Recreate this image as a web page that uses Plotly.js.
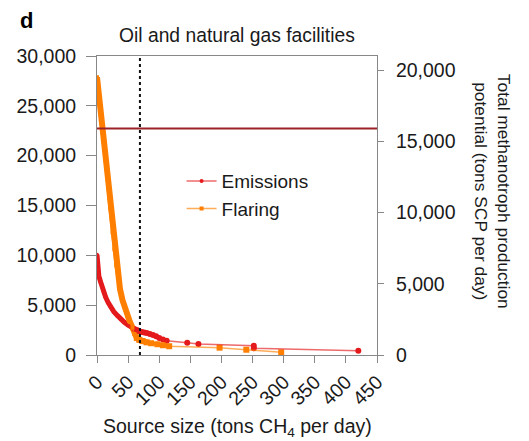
<!DOCTYPE html>
<html>
<head>
<meta charset="utf-8">
<script src="https://cdn.plot.ly/plotly-3.0.1.min.js"></script>
<style>html,body{margin:0;padding:0;background:#fff;}#chart{width:529px;height:441px;}</style>
</head>
<body>
<div id="chart"></div>
<script>
// ---- Data ----
const emissionsX = [0, 1, 3, 6, 10, 14, 18, 22, 27, 33, 38, 44, 50, 55, 60, 64, 68, 72, 76, 80, 85, 90, 95, 100, 106, 112, 145, 163, 252, 252, 420];
const emissionsY = [10060, 8630, 7900, 7290, 6450, 5790, 5250, 4790, 4350, 3950, 3600, 3280, 3000, 2780, 2620, 2500, 2380, 2300, 2270, 2200, 2110, 2000, 1880, 1700, 1560, 1440, 1230, 1100, 935, 670, 430];
const flaringX = [0, 2, 4, 6, 9, 12, 15, 18, 21, 25, 28, 31, 34, 37, 41, 45, 49, 53, 57, 60, 64, 68, 73, 80, 87, 97, 106, 116, 197, 240, 296];
const flaringY = [27860, 26700, 25400, 24200, 22350, 20550, 18700, 16800, 14800, 12300, 10600, 9000, 7700, 6600, 5500, 4600, 3900, 3300, 2750, 2100, 1700, 1520, 1400, 1270, 1180, 1080, 980, 880, 735, 530, 265];
const seriesNames = ["Emissions", "Flaring"];
const thresholdSize = 69;          // vertical dotted line (tons CH4 per day)
const productionLevel = 15900;     // horizontal line on right axis (tons SCP per day)
const xTicks = [0, 50, 100, 150, 200, 250, 300, 350, 400, 450];
const yTicks = [0, 5000, 10000, 15000, 20000, 25000, 30000];
const y2Ticks = [0, 5000, 10000, 15000, 20000];

const RED = "#e41a1c", ORANGE = "#ff7f00";
const FONT = "Liberation Sans, Arial, Helvetica, sans-serif";
const denseE = 26, denseF = 24;

const traces = [
  // thick bands where the source points are packed densely
  {x: emissionsX.slice(0, 16), y: emissionsY.slice(0, 16), mode: "lines",
   line: {color: RED, width: 5}, showlegend: false, hoverinfo: "skip"},
  {x: emissionsX.slice(0, denseE), y: emissionsY.slice(0, denseE), mode: "lines",
   line: {color: RED, width: 3.5}, showlegend: false, hoverinfo: "skip"},
  {x: flaringX.slice(0, denseF), y: flaringY.slice(0, denseF), mode: "lines",
   line: {color: ORANGE, width: 6}, showlegend: false, hoverinfo: "skip"},
  {x: flaringX.slice(0, 28), y: flaringY.slice(0, 28), mode: "lines",
   line: {color: ORANGE, width: 3.5}, showlegend: false, hoverinfo: "skip"},
  // markers drawn only on the sparser tail
  {x: emissionsX.slice(14), y: emissionsY.slice(14), mode: "markers",
   marker: {color: RED, size: 6, symbol: "circle"}, showlegend: false, hoverinfo: "skip"},
  {x: flaringX.slice(20), y: flaringY.slice(20), mode: "markers",
   marker: {color: ORANGE, size: 6, symbol: "square"}, showlegend: false, hoverinfo: "skip"},
  // full series (legend entries)
  {x: emissionsX, y: emissionsY, name: seriesNames[0], mode: "lines+markers",
   line: {color: "rgba(228,26,28,0.65)", width: 1.5},
   marker: {color: RED, size: 4, symbol: "circle"}},
  {x: flaringX, y: flaringY, name: seriesNames[1], mode: "lines+markers",
   line: {color: "rgba(255,127,0,0.65)", width: 1.5},
   marker: {color: ORANGE, size: 4, symbol: "square"}},
  {x: [0, 450], y: [0, 0], yaxis: "y2", mode: "lines", line: {width: 0}, showlegend: false, hoverinfo: "skip"}
];

const fmt = v => v.toLocaleString("en-US");

const layout = {
  width: 529, height: 441,
  margin: {l: 97, r: 152, t: 56, b: 86},
  paper_bgcolor: "#fff", plot_bgcolor: "#fff",
  font: {family: FONT, size: 19, color: "#1a1a1a"},
  showlegend: true,
  legend: {x: 0.302, y: 0.535, xanchor: "left", yanchor: "middle", bgcolor: "rgba(0,0,0,0)",
           font: {size: 19}, itemwidth: 30, tracegroupgap: 0},
  xaxis: {range: [0, 450], tickvals: xTicks, ticktext: xTicks.map(String), tickangle: -45,
          ticks: "outside", ticklen: 7, tickcolor: "#888", showline: true, linecolor: "#888",
          linewidth: 1, mirror: true, showgrid: false, zeroline: false, tickfont: {size: 19.5}},
  yaxis: {range: [0, 30000], tickvals: yTicks, ticktext: yTicks.map(fmt),
          ticks: "outside", ticklen: 10, tickcolor: "#888", showline: true, linecolor: "#888",
          linewidth: 1, showgrid: false, zeroline: false, tickfont: {size: 19.5}, ticklabelstandoff: 6},
  yaxis2: {range: [0, 21000], overlaying: "y", side: "right", tickvals: y2Ticks, ticktext: y2Ticks.map(fmt),
           ticks: "outside", ticklen: 6, tickcolor: "#888", showline: true, linecolor: "#888",
           linewidth: 1, showgrid: false, zeroline: false, tickfont: {size: 19.5}, ticklabelstandoff: 8},
  shapes: [
    {type: "line", xref: "x", yref: "paper", x0: thresholdSize, x1: thresholdSize, y0: 0, y1: 1,
     line: {color: "#111", width: 2, dash: "dot"}},
    {type: "line", xref: "paper", yref: "y2", x0: 0, x1: 1, y0: productionLevel, y1: productionLevel,
     line: {color: "#9b2226", width: 2}}
  ],
  annotations: [
    {text: "<b>d</b>", xref: "paper", yref: "paper", x: -0.282, y: 1.12, xanchor: "left", yanchor: "middle",
     showarrow: false, font: {size: 22, color: "#000"}},
    {text: "Oil and natural gas facilities", xref: "paper", yref: "paper", x: 0.5, y: 1.067,
     xanchor: "center", yanchor: "middle", showarrow: false, font: {size: 19.3}},
    {text: "Source size (tons CH<sub>4</sub> per day)", xref: "paper", yref: "paper", x: 0.5, y: -0.243,
     xanchor: "center", yanchor: "middle", showarrow: false, font: {size: 19.5}},
    {text: "Total methanotroph production<br>potential (tons SCP per day)", xref: "paper", yref: "paper",
     x: 1.413, y: 0.547, xanchor: "center", yanchor: "middle", textangle: 90, showarrow: false,
     font: {size: 17.4}}
  ]
};

Plotly.newPlot("chart", traces, layout, {displayModeBar: false, staticPlot: true});
</script>
</body>
</html>
